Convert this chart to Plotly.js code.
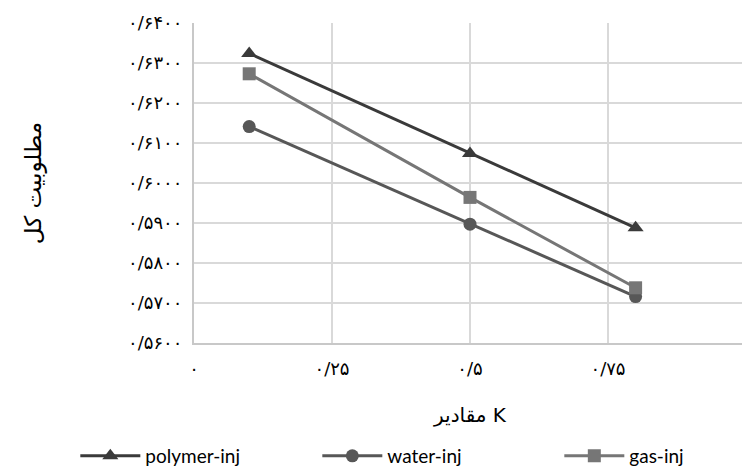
<!DOCTYPE html>
<html>
<head>
<meta charset="utf-8">
<script src="https://cdn.plot.ly/plotly-3.0.1.min.js"></script>
<style>
html,body{margin:0;padding:0;overflow:hidden;background:#fff;}
#chart{width:830px;height:474px;}
</style>
</head>
<body>
<div id="chart"></div>
<script>
const kValues = [0.1, 0.5, 0.8];
const polymerInj = [0.6324, 0.6074, 0.5888];
const waterInj = [0.6141, 0.5897, 0.5716];
const gasInj = [0.6273, 0.5964, 0.5738];

const yTickVals = [0.56, 0.57, 0.58, 0.59, 0.60, 0.61, 0.62, 0.63, 0.64];
const yTickText = ['۰/۵۶۰۰','۰/۵۷۰۰','۰/۵۸۰۰','۰/۵۹۰۰','۰/۶۰۰۰','۰/۶۱۰۰','۰/۶۲۰۰','۰/۶۳۰۰','۰/۶۴۰۰'];
const xTickVals = [0, 0.25, 0.5, 0.75, 1];
const xTickText = ['۰','۰/۲۵','۰/۵','۰/۷۵','۱'];

const seriesNames = ['polymer-inj', 'water-inj', 'gas-inj'];
const seriesColors = ['#3a3a3a', '#575757', '#767676'];
const seriesSymbols = ['triangle-up', 'circle', 'square'];
const seriesData = [polymerInj, waterInj, gasInj];

const traces = seriesData.map((ys, i) => ({
  x: kValues,
  y: ys,
  name: seriesNames[i],
  type: 'scatter',
  mode: 'lines+markers',
  line: {color: seriesColors[i], width: 3},
  marker: {color: seriesColors[i], symbol: seriesSymbols[i], size: seriesSymbols[i] === 'triangle-up' ? 14 : 13}
}));

const fontFam = 'Lato, "DejaVu Sans", sans-serif';
const faFont = '"DejaVu Sans", sans-serif';

const layout = {
  width: 830,
  height: 474,
  margin: {l: 194, r: 84, t: 23, b: 131, autoexpand: false},
  paper_bgcolor: '#ffffff',
  plot_bgcolor: '#ffffff',
  font: {family: fontFam, size: 15, color: '#000'},
  showlegend: true,
  xaxis: {
    range: [0, 1],
    tickvals: xTickVals,
    ticktext: xTickText,
    showgrid: true,
    gridcolor: '#d9d9d9',
    gridwidth: 2,
    zeroline: false,
    showline: true,
    linecolor: '#c8c8c8',
    linewidth: 2,
    ticks: '',
    ticklabelstandoff: 8,
    tickfont: {family: faFont, size: 18, color: '#000'},
    title: {text: 'مقادیر K', font: {family: faFont, size: 20, color: '#000'}, standoff: 30},
    fixedrange: true
  },
  yaxis: {
    range: [0.56, 0.64],
    tickvals: yTickVals,
    ticktext: yTickText,
    showgrid: true,
    gridcolor: '#d9d9d9',
    gridwidth: 2,
    zeroline: false,
    showline: true,
    linecolor: '#c8c8c8',
    linewidth: 2,
    ticks: '',
    ticklabelstandoff: 6,
    tickfont: {family: faFont, size: 18, color: '#000'},
    title: {text: 'مطلوبیت کل', font: {family: faFont, size: 23, color: '#000'}, standoff: 80},
    fixedrange: true
  },
  legend: {
    orientation: 'h',
    x: -0.215,
    xanchor: 'left',
    y: -0.353,
    yanchor: 'middle',
    entrywidth: 167,
    entrywidthmode: 'pixels',
    itemwidth: 60,
    font: {family: fontFam, size: 19, color: '#000'},
    bgcolor: 'rgba(0,0,0,0)'
  }
};

Plotly.newPlot('chart', traces, layout, {displayModeBar: false, staticPlot: true});
</script>
</body>
</html>
